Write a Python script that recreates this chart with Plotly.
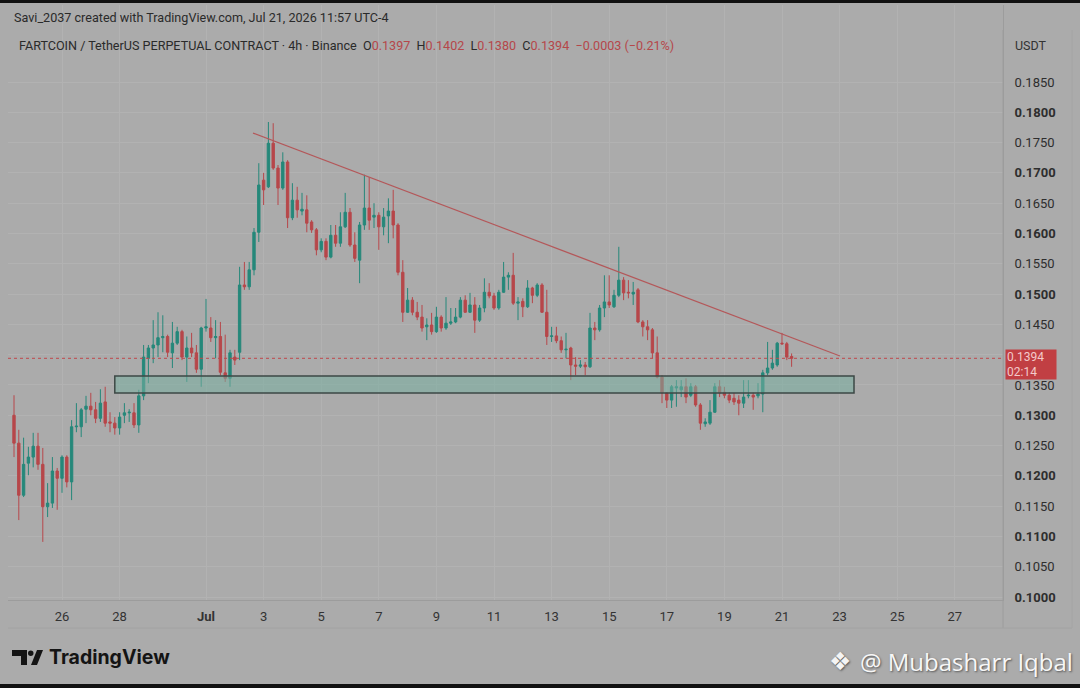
import pandas as pd
import plotly.graph_objects as go

# ---------------- data ----------------
start_time = "2026-06-24 08:00"
bar_freq = "4h"

opens = [0.1300,0.1254,0.1168,0.1221,0.1231,0.1249,0.1219,0.1149,0.1155,0.1208,
         0.1196,0.1231,0.1190,0.1281,0.1281,0.1310,0.1315,0.1309,0.1295,0.1322,
         0.1289,0.1287,0.1279,0.1300,0.1304,0.1304,0.1284,0.1332,0.1394,0.1411,
         0.1416,0.1428,0.1430,0.1403,0.1419,0.1438,0.1396,0.1411,0.1403,0.1376,
         0.1444,0.1444,0.1428,0.1430,0.1370,0.1361,0.1396,0.1404,0.1515,0.1512,
         0.1540,0.1602,0.1688,0.1677,0.1749,0.1708,0.1675,0.1718,0.1626,0.1655,
         0.1637,0.1639,0.1619,0.1606,0.1573,0.1587,0.1561,0.1597,0.1584,0.1611,
         0.1635,0.1581,0.1556,0.1614,0.1642,0.1627,0.1630,0.1611,0.1629,0.1637,
         0.1614,0.1536,0.1470,0.1490,0.1470,0.1462,0.1446,0.1449,0.1438,0.1462,
         0.1444,0.1452,0.1454,0.1462,0.1490,0.1470,0.1482,0.1457,0.1477,0.1503,
         0.1497,0.1477,0.1503,0.1528,0.1531,0.1485,0.1488,0.1479,0.1510,0.1498,
         0.1515,0.1470,0.1430,0.1431,0.1423,0.1408,0.1411,0.1383,0.1381,0.1383,
         0.1380,0.1444,0.1441,0.1477,0.1487,0.1479,0.1498,0.1523,0.1503,0.1500,
         0.1507,0.1454,0.1446,0.1441,0.1403,0.1363,0.1337,0.1325,0.1345,0.1342,
         0.1347,0.1333,0.1347,0.1317,0.1286,0.1287,0.1305,0.1347,0.1338,0.1333,
         0.1328,0.1325,0.1320,0.1332,0.1333,0.1332,0.1335,0.1370,0.1378,0.1383,
         0.1419,0.1418,0.1397]
highs = [0.1333,0.1276,0.1263,0.1248,0.1271,0.1271,0.1246,0.1188,0.1231,0.1213,
         0.1234,0.1234,0.1292,0.1320,0.1312,0.1332,0.1337,0.1322,0.1343,0.1347,
         0.1305,0.1297,0.1305,0.1320,0.1310,0.1320,0.1342,0.1416,0.1416,0.1457,
         0.1470,0.1465,0.1433,0.1454,0.1446,0.1441,0.1430,0.1436,0.1416,0.1446,
         0.1492,0.1462,0.1457,0.1454,0.1433,0.1408,0.1408,0.1545,0.1553,0.1553,
         0.1609,0.1716,0.1700,0.1784,0.1782,0.1713,0.1734,0.1721,0.1683,0.1677,
         0.1667,0.1663,0.1622,0.1609,0.1592,0.1592,0.1614,0.1614,0.1635,0.1667,
         0.1642,0.1602,0.1619,0.1697,0.1693,0.1650,0.1635,0.1642,0.1658,0.1672,
         0.1617,0.1556,0.1510,0.1495,0.1487,0.1482,0.1460,0.1469,0.1479,0.1465,
         0.1495,0.1477,0.1477,0.1495,0.1498,0.1502,0.1495,0.1482,0.1526,0.1518,
         0.1502,0.1507,0.1553,0.1536,0.1568,0.1495,0.1493,0.1523,0.1512,0.1518,
         0.1518,0.1507,0.1446,0.1446,0.1430,0.1436,0.1413,0.1396,0.1391,0.1388,
         0.1469,0.1454,0.1482,0.1531,0.1531,0.1507,0.1578,0.1528,0.1523,0.1520,
         0.1510,0.1457,0.1457,0.1444,0.1430,0.1366,0.1338,0.1350,0.1358,0.1358,
         0.1361,0.1353,0.1350,0.1320,0.1295,0.1325,0.1353,0.1358,0.1347,0.1338,
         0.1337,0.1333,0.1358,0.1358,0.1338,0.1353,0.1375,0.1421,0.1408,0.1421,
         0.1436,0.1421,0.1402]
lows = [0.1231,0.1127,0.1165,0.1201,0.1214,0.1210,0.1091,0.1132,0.1147,0.1144,
        0.1172,0.1181,0.1160,0.1272,0.1264,0.1287,0.1300,0.1287,0.1289,0.1281,
        0.1272,0.1268,0.1268,0.1287,0.1289,0.1279,0.1271,0.1325,0.1353,0.1386,
        0.1396,0.1404,0.1396,0.1378,0.1416,0.1391,0.1355,0.1396,0.1370,0.1347,
        0.1438,0.1421,0.1394,0.1366,0.1355,0.1347,0.1383,0.1391,0.1507,0.1507,
        0.1531,0.1586,0.1647,0.1675,0.1705,0.1647,0.1672,0.1609,0.1622,0.1626,
        0.1630,0.1602,0.1601,0.1564,0.1569,0.1556,0.1559,0.1578,0.1578,0.1609,
        0.1578,0.1553,0.1518,0.1606,0.1606,0.1609,0.1573,0.1597,0.1584,0.1592,
        0.1531,0.1454,0.1469,0.1465,0.1457,0.1438,0.1424,0.1433,0.1436,0.1438,
        0.1441,0.1449,0.1452,0.1460,0.1469,0.1469,0.1436,0.1454,0.1470,0.1493,
        0.1474,0.1474,0.1502,0.1507,0.1482,0.1457,0.1462,0.1477,0.1485,0.1495,
        0.1469,0.1416,0.1421,0.1419,0.1403,0.1394,0.1358,0.1366,0.1378,0.1366,
        0.1378,0.1424,0.1438,0.1462,0.1477,0.1477,0.1495,0.1490,0.1493,0.1482,
        0.1452,0.1430,0.1424,0.1394,0.1361,0.1320,0.1312,0.1312,0.1314,0.1330,
        0.1320,0.1330,0.1314,0.1276,0.1281,0.1284,0.1304,0.1330,0.1328,0.1320,
        0.1317,0.1300,0.1312,0.1328,0.1309,0.1328,0.1305,0.1366,0.1375,0.1380,
        0.1416,0.1391,0.1380]
closes = [0.1254,0.1168,0.1219,0.1231,0.1249,0.1219,0.1149,0.1155,0.1208,0.1196,
          0.1231,0.1190,0.1281,0.1282,0.1309,0.1315,0.1309,0.1295,0.1320,0.1287,
          0.1287,0.1279,0.1297,0.1304,0.1305,0.1284,0.1332,0.1396,0.1411,0.1416,
          0.1428,0.1430,0.1404,0.1419,0.1438,0.1396,0.1411,0.1403,0.1376,0.1444,
          0.1446,0.1428,0.1430,0.1371,0.1361,0.1403,0.1391,0.1515,0.1512,0.1540,
          0.1602,0.1680,0.1672,0.1749,0.1708,0.1675,0.1718,0.1626,0.1655,0.1639,
          0.1640,0.1617,0.1606,0.1573,0.1587,0.1561,0.1597,0.1584,0.1611,0.1635,
          0.1581,0.1559,0.1614,0.1642,0.1622,0.1630,0.1611,0.1627,0.1637,0.1614,
          0.1536,0.1470,0.1490,0.1470,0.1462,0.1444,0.1449,0.1438,0.1462,0.1444,
          0.1452,0.1454,0.1462,0.1490,0.1470,0.1482,0.1457,0.1477,0.1503,0.1497,
          0.1477,0.1503,0.1528,0.1531,0.1485,0.1487,0.1479,0.1510,0.1498,0.1515,
          0.1470,0.1430,0.1431,0.1423,0.1408,0.1409,0.1383,0.1381,0.1383,0.1380,
          0.1444,0.1441,0.1477,0.1487,0.1482,0.1498,0.1523,0.1502,0.1502,0.1503,
          0.1454,0.1446,0.1441,0.1403,0.1363,0.1337,0.1325,0.1347,0.1347,0.1347,
          0.1330,0.1347,0.1317,0.1287,0.1289,0.1305,0.1347,0.1337,0.1333,0.1325,
          0.1322,0.1320,0.1330,0.1333,0.1330,0.1335,0.1370,0.1378,0.1386,0.1419,
          0.1418,0.1396,0.1394]

price_ticks = [0.1000,0.1050,0.1100,0.1150,0.1200,0.1250,0.1300,0.1350,0.1400,
               0.1450,0.1500,0.1550,0.1600,0.1650,0.1700,0.1750,0.1800,0.1850]
hidden_ticks = [0.1400]   # covered by the last-price label in the reference
date_ticks = ["2026-06-26","2026-06-28","2026-07-01","2026-07-03","2026-07-05",
              "2026-07-07","2026-07-09","2026-07-11","2026-07-13","2026-07-15",
              "2026-07-17","2026-07-19","2026-07-21","2026-07-23","2026-07-25",
              "2026-07-27"]
date_labels = ["26","28","<b>Jul</b>","3","5","7","9","11","13","15","17","19",
               "21","23","25","27"]

trend_start = ("2026-07-02 15:10", 0.17658)
trend_end = ("2026-07-23 00:20", 0.13978)
zone_start, zone_end = "2026-06-27 20:00", "2026-07-23 12:00"
zone_low, zone_high = 0.13367, 0.13648
countdown = "02:14"
change_text = "\u22120.0003 (\u22120.21%)"

x_range = ["2026-06-24 03:00", "2026-07-28 16:10"]
y_range = [0.09951, 0.19771]

# ---------------- styling ----------------
BG = "#ababab"
GREEN = "#25887a"
RED = "#b7474a"
TXT = "#2b2b2b"
GRID = "#b2b2b2"
FONT = "Roboto"

W, H = 1080, 688
L, R, T, B = 8, 77, 5, 88   # plot area: x 8..1003, y 5..600


def px(x):
    return (x - L) / (W - L - R)


def py(y):
    return (H - B - y) / (H - T - B)


dates = pd.date_range(start_time, periods=len(closes), freq=bar_freq)

fig = go.Figure()
fig.add_trace(go.Candlestick(
    x=dates, open=opens, high=highs, low=lows, close=closes,
    increasing=dict(line=dict(color=GREEN, width=1), fillcolor=GREEN),
    decreasing=dict(line=dict(color=RED, width=1), fillcolor=RED),
    whiskerwidth=0, hoverinfo="skip", showlegend=False,
))

tick_text = []
for v in price_ticks:
    s = f"{v:.4f}"
    if v in hidden_ticks:
        tick_text.append("")
    elif round(v * 1000) % 10 == 0:
        tick_text.append(f"<b>{s}</b>")
    else:
        tick_text.append(s)

fig.update_layout(
    width=W, height=H,
    margin=dict(l=L, r=R, t=T, b=B),
    paper_bgcolor=BG, plot_bgcolor=BG,
    font=dict(family=FONT, size=12, color=TXT),
    showlegend=False,
    xaxis=dict(
        type="date", range=x_range, rangeslider=dict(visible=False),
        tickvals=date_ticks, ticktext=date_labels, ticks="",
        showgrid=True, gridcolor=GRID, gridwidth=1,
        showline=True, linecolor="#9c9c9c", linewidth=1,
        tickfont=dict(family=FONT, size=13, color="#333333"),
        ticklabelstandoff=4, zeroline=False, fixedrange=True,
    ),
    yaxis=dict(
        side="right", range=y_range,
        tickvals=price_ticks, ticktext=tick_text, ticks="",
        showgrid=True, gridcolor=GRID, gridwidth=1,
        showline=True, linecolor="#9c9c9c", linewidth=1,
        tickfont=dict(family=FONT, size=13, color="#2e2e2e"),
        ticklabelstandoff=8, zeroline=False, fixedrange=True,
    ),
)

shapes = []
# support / resistance zone
shapes.append(dict(type="rect", xref="x", yref="y", x0=zone_start, x1=zone_end,
                   y0=zone_low, y1=zone_high, fillcolor="rgba(120,175,160,0.55)",
                   line=dict(color="#3d4845", width=1.5), layer="above"))
# descending trendline
shapes.append(dict(type="line", xref="x", yref="y", x0=trend_start[0], y0=trend_start[1],
                   x1=trend_end[0], y1=trend_end[1], line=dict(color="#b4585a", width=1.3)))
# last price dotted line
shapes.append(dict(type="line", xref="paper", yref="y", x0=0, x1=1,
                   y0=closes[-1], y1=closes[-1], line=dict(color="#c0484b", width=1, dash="dot")))
# frame lines
shapes.append(dict(type="line", xref="paper", yref="paper", x0=px(1003), x1=px(1003),
                   y0=py(30), y1=py(628), line=dict(color="#9c9c9c", width=1)))
shapes.append(dict(type="line", xref="paper", yref="paper", x0=px(8), x1=px(1072),
                   y0=py(628), y1=py(628), line=dict(color="#a2a2a2", width=1)))
shapes.append(dict(type="line", xref="paper", yref="paper", x0=px(1072), x1=px(1072),
                   y0=py(30), y1=py(628), line=dict(color="#a4a4a4", width=1)))
# black photo borders
shapes.append(dict(type="rect", xref="paper", yref="paper", x0=px(0), x1=px(W),
                   y0=py(0), y1=py(3), fillcolor="#111111", line=dict(width=0)))
shapes.append(dict(type="rect", xref="paper", yref="paper", x0=px(0), x1=px(W),
                   y0=py(684), y1=py(H), fillcolor="#111111", line=dict(width=0)))
# TradingView logo mark
logo_path = (f"M {px(12)} {py(650)} L {px(27)} {py(650)} L {px(27)} {py(665)} "
             f"L {px(21)} {py(665)} L {px(21)} {py(656)} L {px(12)} {py(656)} Z")
shapes.append(dict(type="path", xref="paper", yref="paper", path=logo_path,
                   fillcolor="#141414", line=dict(width=0)))
shapes.append(dict(type="circle", xref="paper", yref="paper", x0=px(28), x1=px(33.5),
                   y0=py(650.5), y1=py(656), fillcolor="#141414", line=dict(width=0)))
slash_path = (f"M {px(31)} {py(665)} L {px(37)} {py(650)} L {px(43)} {py(650)} "
              f"L {px(37)} {py(665)} Z")
shapes.append(dict(type="path", xref="paper", yref="paper", path=slash_path,
                   fillcolor="#141414", line=dict(width=0)))
fig.update_layout(shapes=shapes)

red_span = "<span style='color:#b5474a'>{}</span>"
header2 = ("FARTCOIN / TetherUS PERPETUAL CONTRACT \u00b7 4h \u00b7 Binance  "
           f"O{red_span.format(f'{opens[-1]:.4f}')}  H{red_span.format(f'{highs[-1]:.4f}')}  "
           f"L{red_span.format(f'{lows[-1]:.4f}')}  C{red_span.format(f'{closes[-1]:.4f}')}  "
           f"{red_span.format(change_text)}")

ann = [
    dict(text="Savi_2037 created with TradingView.com, Jul 21, 2026 11:57 UTC-4",
         x=px(12), y=py(17), xanchor="left", yanchor="middle",
         font=dict(size=12.6, color="#2a2a2a")),
    dict(text=header2, x=px(17), y=py(46), xanchor="left", yanchor="middle",
         font=dict(size=12.6, color="#2a2a2a")),
    dict(text="USDT", x=px(1031), y=py(46), xanchor="center", yanchor="middle",
         font=dict(size=12.5, color="#333333")),
    dict(text=f"{closes[-1]:.4f}<br>{countdown}", x=px(1005), y=closes[-1], yref="y",
         xanchor="left", yanchor="top", yshift=9, align="left",
         bgcolor="#c13f43", borderpad=1, width=48, height=27,
         font=dict(size=12, color="#f3caca")),
    dict(text="<b>TradingView</b>", x=px(47), y=py(657), xanchor="left", yanchor="middle",
         font=dict(family="Inter", size=19.5, color="#141414")),
    dict(text="\u2756", x=px(840), y=py(661), xanchor="center", yanchor="middle",
         font=dict(family="DejaVu Sans", size=25, color="#f4f4f4",
                   shadow="1px 1px 2px #555555")),
    dict(text="@ Mubasharr Iqbal", x=px(858), y=py(661), xanchor="left", yanchor="middle",
         font=dict(family="Open Sans", size=24, color="#f7f7f7",
                   shadow="1px 1px 2px #555555")),
]
for a in ann:
    a.setdefault("xref", "paper")
    a.setdefault("yref", "paper")
    a["showarrow"] = False
fig.update_layout(annotations=ann)

fig.write_html(
    "out.html",
    config={"displayModeBar": False},
    post_script="document.body.style.margin='0';document.body.style.background='#ababab';",
)
